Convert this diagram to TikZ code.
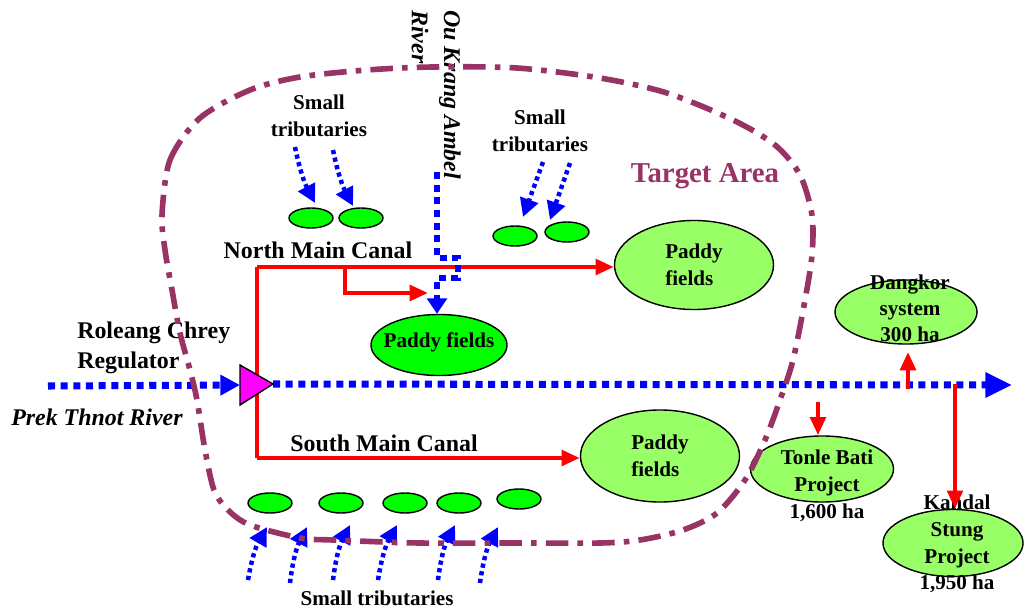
\documentclass[tikz,border=0pt]{standalone}
\usepackage{fontspec}
\setmainfont{Liberation Serif}
\usetikzlibrary{arrows.meta}
\usetikzlibrary{shapes.geometric}

\begin{document}
\begin{tikzpicture}[x=0.025cm, y=-0.025cm,
    river/.style={riverblue, line width=5pt, dash pattern=on 5pt off 4pt},
    trib/.style={riverblue, line width=3.2pt, dash pattern=on 3pt off 2.5pt, -{Triangle[length=13pt,width=13pt]}},
    canal/.style={canalred, line width=3pt, line join=miter},
    canalhead/.style={-{Triangle[length=13pt,width=11pt]}},
    field/.style={ellipse, draw=black, line width=1pt, fill=paddy, inner sep=0pt,
      font=\fontsize{15}{19}\selectfont\bfseries, align=left},
    blobnode/.style={ellipse, draw=black, line width=1pt, fill=blobgreen, inner sep=0pt,
      minimum width=1.1cm, minimum height=0.5cm},
    lbl/.style={font=\fontsize{15}{19}\selectfont\bfseries, align=center, inner sep=0pt},
    biglbl/.style={font=\fontsize{17}{21}\selectfont\bfseries, inner sep=0pt}]
    \definecolor{riverblue}{HTML}{0000FF}
    \definecolor{canalred}{HTML}{FF0000}
    \definecolor{paddy}{HTML}{99FF66}
    \definecolor{blobgreen}{HTML}{00FF00}
    \definecolor{target}{HTML}{993366}
    \definecolor{regmag}{HTML}{FF00FF}
    \useasboundingbox (0,0) rectangle (1024,610);

    % fields and projects
    \node[field, minimum width=3.975cm, minimum height=2.225cm] (padnorth) at (694,265) {Paddy\\fields};
    \node[field, minimum width=3.975cm, minimum height=2.3cm] (padsouth) at (660,456) {Paddy\\fields};
    \node[field, fill=blobgreen, minimum width=3.4cm, minimum height=1.525cm] (padmid) at (439,345) {};
    \node[lbl] (padmidtxt) at (439,342) {Paddy fields};
    \node[field, minimum width=3.55cm, minimum height=1.6cm] (dangkor) at (906,312) {};
    \node[field, minimum width=3.575cm, minimum height=1.65cm] (tonle) at (822,469) {};
    \node[field, minimum width=3.5cm, minimum height=1.675cm] (kandal) at (953,543) {};
    \node[lbl, font=\fontsize{15}{18.5}\selectfont\bfseries] (dangkortxt) at (910,308) {Dangkor\\system\\300 ha};
    \node[lbl] (tonletxt) at (827,486) {Tonle Bati\\Project\\1,600 ha};
    \node[lbl] (kandaltxt) at (957,544) {Kandal\\Stung\\Project\\1,950 ha};

    % small water bodies
    \foreach \n/\bx/\by in {bA/311/218, bB/361/218, bC/515/236, bD/567/232,
      bE/270/503, bF/341/503, bG/405/503, bH/459/503, bI/519/499}
      \node[blobnode] (\n) at (\bx,\by) {};

    % small tributaries
    \foreach \i/\sx/\sy/\tx/\ty/\bnd in {1/295/147/315/203/-8, 2/333/150/353/206/-8,
      3/543/162/523/217/0, 4/570/163/550/220/0,
      5/248/580/267/527/10, 6/290/583/307/527/10, 7/333/580/350/525/10,
      8/378/580/397/525/10, 9/438/580/455/525/10, 10/480/583/498/527/10}
    {
      \coordinate (ts\i) at (\sx,\sy);
      \coordinate (tt\i) at (\tx,\ty);
      \draw[trib] (ts\i) to[bend left=\bnd] (tt\i);
    };

    % canals
    \coordinate (nc) at (257,267);  % north canal corner
    \coordinate (sc) at (257,458);  % south canal corner
    \coordinate (nb) at (345,267);  % branch
    \coordinate (nbtip) at (428,293);
    \draw[canal] (nc) -- (sc);
    \draw[canal, canalhead] (nc) -- (nc -| padnorth.west);
    \draw[canal, canalhead] (nb) |- (nbtip);
    \draw[canal, canalhead] (sc) -- (sc -| padsouth.west);

    % Ou Krang Ambel river
    \coordinate (oktop) at (437,172);
    \draw[river, line width=4.5pt, -{Triangle[length=11pt,width=14pt]}] (oktop) -- (437,258) -- (458,258)
      -- (458,278) -- (437,278) -- (oktop |- padmid.north);

    % Prek Thnot river and regulator
    \coordinate (rivstart) at (48,386);
    \coordinate (regin) at (240,385);
    \coordinate (regout) at (273,384);
    \coordinate (rivend) at (1012,385);
    \draw[river, -{Triangle[length=14pt,width=14pt]}] (rivstart) -- (regin);
    \draw[river, -{Triangle[length=19pt,width=17pt]}] (regout) -- (rivend);
    \draw[fill=regmag, line width=1pt] (240,365) -- (regout) -- (240,405) -- cycle;  % regulator

    % offtakes
    \coordinate (dk) at (908,389);
    \coordinate (tb) at (818,402);
    \coordinate (ks) at (955,384);
    \draw[canal, canalhead] (dk) -- (908,352);
    \draw[canal, canalhead] (tb) -- (tb |- tonle.north);
    \draw[canal, canalhead] (ks) -- (ks |- kandal.north);

    % labels
    \node[lbl] (trnw) at (319,116) {Small\\tributaries};
    \node[lbl] (trne) at (540,131) {Small\\tributaries};
    \node[lbl] (trs) at (377,598) {Small tributaries};
    \node[biglbl] (ncl) at (318,250) {North Main Canal};
    \node[biglbl] (scl) at (384,443) {South Main Canal};
    \node[biglbl, align=left, anchor=west] (regl) at (77,348) {Roleang Chrey\\Regulator};
    \node[biglbl, font=\fontsize{17}{21}\selectfont\bfseries\itshape, anchor=west] (prek) at (11,417) {Prek Thnot River};
    \node[biglbl, font=\fontsize{17}{23}\selectfont\bfseries\itshape, align=left, rotate=-90,
      anchor=north west] (okl) at (461,10) {Ou Krang Ambel\\River};
    \node[font=\fontsize{20.5}{24}\selectfont\bfseries, text=target] (tal) at (705,176) {Target Area};

    % target area
    \draw[target, line width=4pt, dash pattern=on 16pt off 6.5pt on 4pt off 6.5pt]
      plot[smooth cycle] coordinates {(162,215) (170,160) (200,118) (250,90) (300,77) (367,70)
      (433,67) (517,68) (600,78) (667,93) (733,120) (775,145) (800,175) (812,215) (812,255)
      (805,300) (793,360) (780,400) (765,440) (745,480) (717,513) (683,530) (640,540)
      (600,543) (517,543) (420,543) (333,540) (300,538) (250,525) (228,510) (214,490)
      (205,450) (197,400) (190,370) (180,333) (172,290) (165,250)};
  \end{tikzpicture}
\end{document}
